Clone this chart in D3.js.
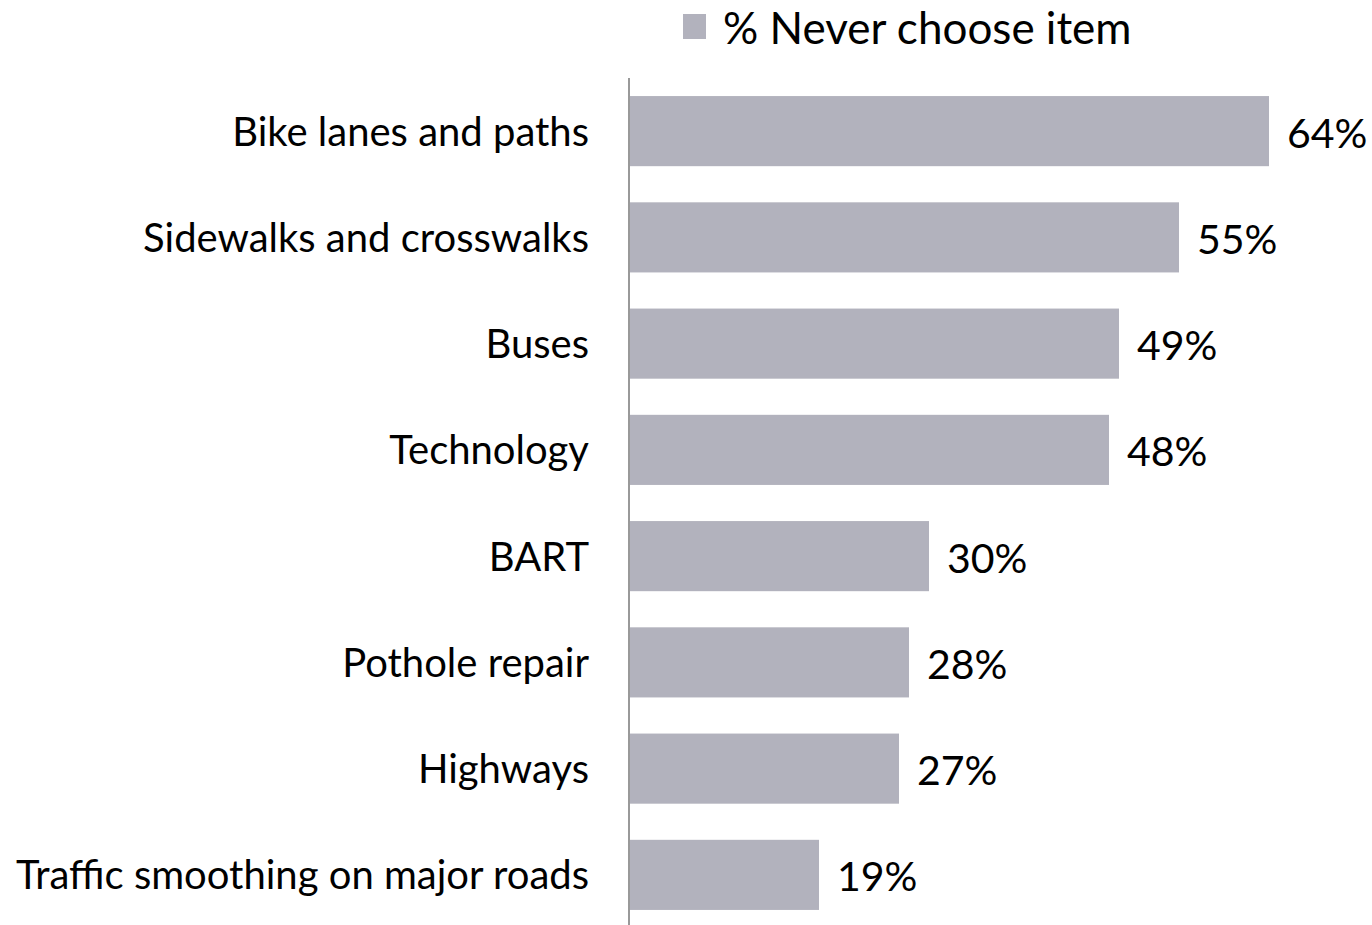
<!DOCTYPE html>
<html>
<head>
<meta charset="utf-8">
<script src="https://cdn.jsdelivr.net/npm/d3@7"></script>
<style>
  html, body { margin: 0; padding: 0; background: #fff; }
  svg { display: block; }
  text { font-family: Lato, "Open Sans", sans-serif; fill: #000; }
</style>
</head>
<body>
<svg id="chart" width="1372" height="925"></svg>
<script>
// Share of respondents who never choose each item
const categories = [
  "Bike lanes and paths",
  "Sidewalks and crosswalks",
  "Buses",
  "Technology",
  "BART",
  "Pothole repair",
  "Highways",
  "Traffic smoothing on major roads"
];
const neverChoose = [64, 55, 49, 48, 30, 28, 27, 19];
const seriesName = "% Never choose item";

const data = categories.map((c, i) => ({ category: c, value: neverChoose[i] }));

const svg = d3.select("#chart");
const W = 1372, H = 925;
const left = 629;

const x = d3.scaleLinear().domain([0, 64]).range([left, 1269]);
const y = d3.scaleBand()
  .domain(categories)
  .range([78, 928])
  .paddingInner(0.34)
  .paddingOuter(0.17);

const barColor = "#b2b2bd";

// bars
svg.append("g")
  .selectAll("rect")
  .data(data)
  .join("rect")
  .attr("x", x(0))
  .attr("y", d => y(d.category))
  .attr("width", d => x(d.value) - x(0))
  .attr("height", y.bandwidth())
  .attr("fill", barColor);

// value labels
svg.append("g")
  .selectAll("text")
  .data(data)
  .join("text")
  .attr("x", d => x(d.value) + 18)
  .attr("y", d => y(d.category) + y.bandwidth() / 2)
  .attr("dy", "0.4em")
  .style("font-size", "41px")
  .text(d => d.value + "%");

// category axis
const axis = d3.axisLeft(y).tickSize(0).tickPadding(40);
const gAxis = svg.append("g")
  .attr("transform", `translate(${left},0)`)
  .call(axis);
gAxis.select(".domain").remove();
gAxis.selectAll(".tick text")
  .style("font-family", "Lato, 'Open Sans', sans-serif")
  .style("font-size", "40px")
  .attr("dy", "0.36em");

// vertical axis line
svg.append("line")
  .attr("x1", left).attr("x2", left)
  .attr("y1", 78).attr("y2", H)
  .attr("stroke", "#999")
  .attr("stroke-width", 2);

// legend
const legend = svg.append("g").attr("transform", "translate(683,14)");
legend.append("rect")
  .attr("width", 23).attr("height", 25)
  .attr("fill", barColor);
legend.append("text")
  .attr("x", 40).attr("y", 13)
  .attr("dy", "0.38em")
  .style("font-size", "44px")
  .text(seriesName);
</script>
</body>
</html>
